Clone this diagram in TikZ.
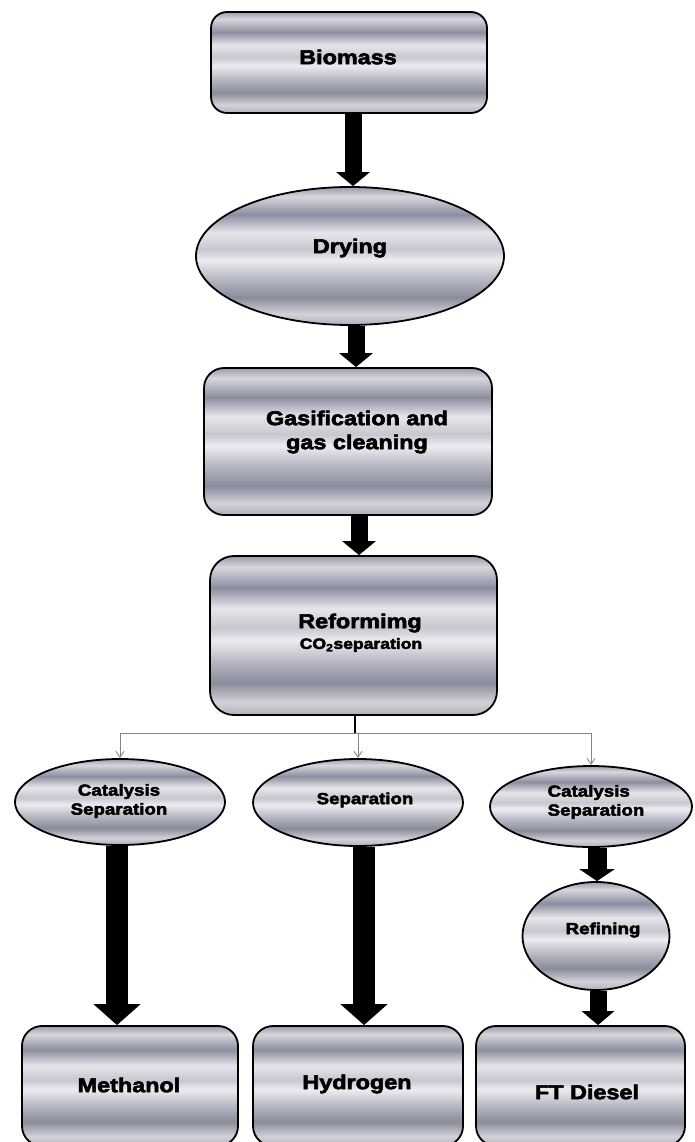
\documentclass[tikz,border=0pt]{standalone}
\usepackage{fontspec}
\setmainfont{Liberation Sans}
\newfontfamily\heavyfont{Liberation Sans}[FakeStretch=1.17, FakeBold=3]
\usetikzlibrary{shapes.geometric,arrows.meta}
\definecolor{s0}{HTML}{AEB0BC}
\definecolor{s1}{HTML}{D2D2D8}
\definecolor{s2}{HTML}{8A8C9C}
\definecolor{s3}{HTML}{B8B9C4}
\definecolor{s4}{HTML}{ECECF0}
\definecolor{s5}{HTML}{C6C7D0}
\definecolor{s6}{HTML}{E6E6EA}
\definecolor{s7}{HTML}{8C8EA0}
\definecolor{s8}{HTML}{D6D6DC}
\definecolor{s9}{HTML}{9A9CAA}
\definecolor{linkgray}{HTML}{858585}
% the middle 50bp (25bp..75bp) of the shading covers the node
\pgfdeclareverticalshading{chrome}{100bp}{color(0bp)=(s0); color(25bp)=(s0); color(29bp)=(s1); color(35bp)=(s2); color(42bp)=(s3); color(48.5bp)=(s4); color(52.5bp)=(s5); color(58.5bp)=(s6); color(65bp)=(s7); color(71.5bp)=(s8); color(75bp)=(s9); color(100bp)=(s9)}
\begin{document}
\begin{tikzpicture}[x=1pt,y=-1pt,
  chromebox/.style={draw=black, line width=1.8pt, rounded corners=16pt, shade, shading=chrome, inner sep=0pt},
  chromeoval/.style={draw=black, ellipse, line width=1.8pt, shade, shading=chrome, inner sep=0pt},
  lbl/.style={font=\heavyfont\bfseries\fontsize{20}{24}\selectfont, align=center, inner sep=0pt},
  smalllbl/.style={font=\heavyfont\bfseries\fontsize{16}{19}\selectfont, align=center, inner sep=0pt},
  bigarrow/.style={line width=17pt, -{Triangle[width=33pt,length=14pt]}},
  longarrow/.style={line width=22pt, -{Triangle[width=46pt,length=21pt]}},
  thinlink/.style={draw=linkgray, line width=0.9pt},
  thinarrow/.style={draw=linkgray, line width=0.9pt, -{Straight Barb[length=6pt,width=8pt]}}
]
\useasboundingbox (0,0) rectangle (694,1142);

% main chain
\node[chromebox, minimum width=276pt, minimum height=101pt] (biomass) at (349,62.5) {};
\node[lbl] (biomassT) at (348,57) {Biomass};

\node[chromeoval, minimum width=308pt, minimum height=138pt] (drying) at (350,256) {};
\node[lbl] (dryingT) at (350,248) {Drying};

\node[chromebox, rounded corners=20pt, minimum width=288pt, minimum height=147pt] (gasif) at (348,441.5) {};
\node[lbl, align=center] (gasifT) at (357,432) {Gasification and\\gas cleaning};

\node[chromebox, rounded corners=24pt, minimum width=287pt, minimum height=159pt] (reform) at (353.5,635.5) {};
\node[lbl] (reformT) at (360,623) {Reformimg};
\node[font=\heavyfont\bfseries\fontsize{15}{17}\selectfont, inner sep=0pt] (co2T) at (361,645) {CO\textsubscript{2}separation};

% second level
\node[chromeoval, minimum width=210pt, minimum height=86pt] (cat1) at (120,802) {};
\node[smalllbl] (cat1T) at (119,801) {Catalysis\\Separation};

\node[chromeoval, minimum width=210pt, minimum height=87pt] (sep) at (358,802.5) {};
\node[smalllbl] (sepT) at (365,800) {Separation};

\node[chromeoval, minimum width=202pt, minimum height=81pt] (cat2) at (591,806.5) {};
\node[smalllbl, align=left] (cat2T) at (596,802) {Catalysis\\Separation};

\node[chromeoval, minimum width=147pt, minimum height=108pt] (refin) at (596,936) {};
\node[smalllbl] (refinT) at (603,930) {Refining};

% products
\node[chromebox, rounded corners=20pt, minimum width=216pt, minimum height=120pt] (methanol) at (130,1086) {};
\node[lbl] (methanolT) at (129,1085) {Methanol};

\node[chromebox, rounded corners=20pt, minimum width=210pt, minimum height=120pt] (hydrogen) at (358,1086) {};
\node[lbl] (hydrogenT) at (357,1084) {Hydrogen};

\node[chromebox, rounded corners=20pt, minimum width=209pt, minimum height=120pt] (ftdiesel) at (580.5,1086) {};
\node[lbl] (ftdieselT) at (587,1092) {FT Diesel};

% arrow columns
\coordinate (c1) at (353,0);
\coordinate (c2) at (356,0);
\coordinate (c3) at (359,0);
\coordinate (c4) at (117,0);
\coordinate (c5) at (364,0);
\coordinate (c6) at (597,0);
\coordinate (c7) at (598,0);

% thick arrows
\draw[bigarrow] (biomass.south -| c1) -- (drying.north -| c1);
\draw[bigarrow] (drying.south -| c2) -- (gasif.north -| c2);
\draw[bigarrow] (gasif.south -| c3) -- (reform.north -| c3);
\draw[longarrow] (cat1.south -| c4) -- (methanol.north -| c4);
\draw[longarrow] (sep.south -| c5) -- (hydrogen.north -| c5);
\draw[bigarrow, line width=19pt, -{Triangle[width=35pt,length=12pt]}] (cat2.south -| c6) -- (refin.north -| c6);
\draw[bigarrow, line width=17pt, -{Triangle[width=32pt,length=14pt]}] (refin.south -| c7) -- (ftdiesel.north -| c7);

% splitting connector
\coordinate (split) at (355,733);
\coordinate (lft) at (cat1.north |- split);
\coordinate (rgt) at (cat2.north |- split);
\draw[line width=1.5pt] (reform.south -| split) -- (split);
\draw[thinlink] (lft) -- (rgt);
\draw[thinarrow] (lft) -- (cat1.north);
\draw[thinarrow] (sep.north |- split) -- (sep.north);
\draw[thinarrow] (rgt) -- (cat2.north);
\end{tikzpicture}
\end{document}
